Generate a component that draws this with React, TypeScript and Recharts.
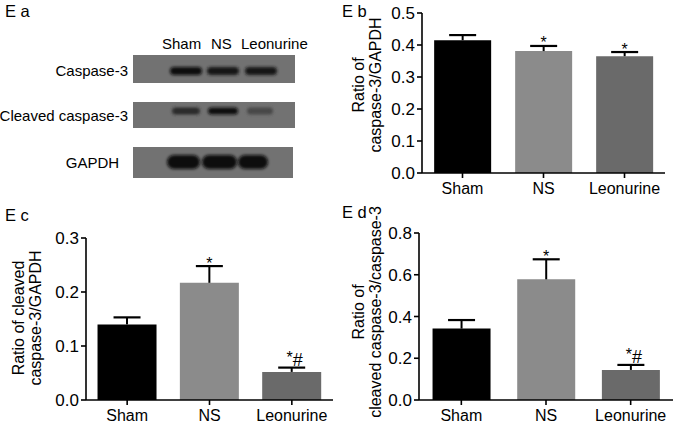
import React from 'react';
import { BarChart, Bar, XAxis, YAxis, Cell } from 'recharts';

const groups = ['Sham', 'NS', 'Leonurine'];
const barColors = ['#000000', '#8b8b8b', '#6a6a6a'];

// Eb: caspase-3 / GAPDH
const casp3Mean = [0.415, 0.381, 0.365];
const casp3Sem = [0.016, 0.016, 0.013];
const casp3Sig = ['', '*', '*'];
const casp3Ticks = [0, 0.1, 0.2, 0.3, 0.4, 0.5];

// Ec: cleaved caspase-3 / GAPDH
const cleavedMean = [0.14, 0.217, 0.052];
const cleavedSem = [0.013, 0.031, 0.008];
const cleavedSig = ['', '*', '*#'];
const cleavedTicks = [0, 0.1, 0.2, 0.3];

// Ed: cleaved caspase-3 / caspase-3
const ratioMean = [0.342, 0.578, 0.144];
const ratioSem = [0.041, 0.096, 0.024];
const ratioSig = ['', '*', '*#'];
const ratioTicks = [0, 0.2, 0.4, 0.6, 0.8];

// Ea: western blot band strength (0-1)
const blotRows = ['Caspase-3', 'Cleaved caspase-3', 'GAPDH'];
const bandStrength = [
  [0.95, 0.9, 0.92],
  [0.7, 0.95, 0.45],
  [1, 1, 1],
];

const FONT = '"Liberation Sans", Arial, sans-serif';

const ErrShape = (props: any) => {
  const { x, y, width, height } = props;
  const sig = props.payload?.sig ?? props.sig;
  const cx = x + width / 2;
  return (
    <g>
      <line x1={cx} x2={cx} y1={y} y2={y + height} stroke="#000" strokeWidth={2} />
      <line x1={cx - 13.5} x2={cx + 13.5} y1={y} y2={y} stroke="#000" strokeWidth={2.2} />
      {sig === '*' && (
        <text x={cx} y={y + 2.5} textAnchor="middle" fontSize={16} fontFamily={FONT} fill="#000">*</text>
      )}
      {sig === '*#' && (
        <text x={cx + 3} y={y - 2} textAnchor="middle" fontFamily={FONT} fill="#000">
          <tspan fontSize={16} dy={-3}>*</tspan>
          <tspan fontSize={18} dy={3}>#</tspan>
        </text>
      )}
    </g>
  );
};

function Panel({ left, top, width, height, margin, yWidth, ticks, mean, sem, sig, gap }: any) {
  const data = groups.map((g, i) => ({ name: g, mean: mean[i], sem: sem[i], sig: sig[i] }));
  return (
    <div style={{ position: 'absolute', left, top }}>
      <BarChart width={width} height={height} data={data} margin={margin} barCategoryGap={gap}>
        <XAxis
          dataKey="name"
          interval={0}
          height={27}
          axisLine={{ stroke: '#000', strokeWidth: 1.6 }}
          tickLine={{ stroke: '#000', strokeWidth: 1.6 }}
          tickSize={5}
          tickMargin={5}
          tick={{ fill: '#000', fontSize: 16, fontFamily: FONT }}
        />
        <YAxis
          domain={[0, ticks[ticks.length - 1]]}
          ticks={ticks}
          width={yWidth}
          tickFormatter={(v: number) => v.toFixed(1)}
          axisLine={{ stroke: '#000', strokeWidth: 1.6 }}
          tickLine={{ stroke: '#000', strokeWidth: 1.6 }}
          tickSize={5}
          tick={{ fill: '#000', fontSize: 17, fontFamily: FONT }}
        />
        <Bar dataKey="mean" stackId="s" isAnimationActive={false}>
          {data.map((d, i) => (
            <Cell key={d.name} fill={barColors[i]} />
          ))}
        </Bar>
        <Bar dataKey="sem" stackId="s" isAnimationActive={false} shape={<ErrShape />} />
      </BarChart>
    </div>
  );
}

const headerX = [162, 211, 241];

const boxes = [
  { x: 133, y: 55, w: 162, h: 28, cy: 71, bh: 8, lanes: [[170, 202], [207, 239], [245, 277]], ly: 76 },
  { x: 133, y: 102, w: 162, h: 26, cy: 111, bh: 7, lanes: [[172, 200], [208, 238], [247, 273]], ly: 121 },
  { x: 133, y: 147, w: 160, h: 31, cy: 162, bh: 14, lanes: [[167, 200], [202, 237], [238, 268]], ly: 168 },
];

export default function App() {
  return (
    <div style={{ position: 'absolute', left: 0, top: 0, width: 677, height: 427, background: '#fff', overflow: 'hidden', fontFamily: FONT }}>
      <Panel left={340} top={0} width={337} height={200} margin={{ top: 13, right: 12, bottom: 0, left: 0 }}
        yWidth={82} ticks={casp3Ticks} mean={casp3Mean} sem={casp3Sem} sig={casp3Sig} gap="15%" />
      <Panel left={0} top={200} width={340} height={227} margin={{ top: 38, right: 7, bottom: 0, left: 0 }}
        yWidth={86} ticks={cleavedTicks} mean={cleavedMean} sem={cleavedSem} sig={cleavedSig} gap="14%" />
      <Panel left={340} top={200} width={337} height={227} margin={{ top: 33, right: 4, bottom: 0, left: 0 }}
        yWidth={79} ticks={ratioTicks} mean={ratioMean} sem={ratioSem} sig={ratioSig} gap="16%" />

      <svg width={677} height={427} style={{ position: 'absolute', left: 0, top: 0, pointerEvents: 'none' }}
        fontFamily={FONT} fill="#000">
        <defs>
          <filter id="blur" x="-30%" y="-60%" width="160%" height="220%">
            <feGaussianBlur stdDeviation="1.6" />
          </filter>
          <filter id="soft">
            <feGaussianBlur stdDeviation="0.6" />
          </filter>
        </defs>

        {/* panel letters */}
        <text x={5} y={17} fontSize={16.5}>E a</text>
        <text x={342} y={17} fontSize={16.5}>E b</text>
        <text x={5} y={221} fontSize={16.5}>E c</text>
        <text x={342} y={218} fontSize={16.5}>E d</text>

        {/* y-axis titles */}
        <g fontSize={16} textAnchor="middle" dominantBaseline="central">
          <text transform="translate(358,85) rotate(-90)">Ratio of</text>
          <text transform="translate(375,85) rotate(-90)">caspase-3/GAPDH</text>
          <text transform="translate(18,318) rotate(-90)">Ratio of cleaved</text>
          <text transform="translate(35,318) rotate(-90)">caspase-3/GAPDH</text>
          <text transform="translate(358,312) rotate(-90)">Ratio of</text>
          <text transform="translate(375,312) rotate(-90)">cleaved caspase-3/caspase-3</text>
        </g>

        {/* blot */}
        <g fontSize={15}>
          {groups.map((g, i) => (
            <text key={g} x={headerX[i]} y={49}>{g}</text>
          ))}
        </g>
        {boxes.map((bx, r) => (
          <g key={r}>
            <rect x={bx.x} y={bx.y} width={bx.w} height={bx.h} fill="#727272" filter="url(#soft)" />
            {bx.lanes.map(([a, b], i) => {
              const s = bandStrength[r][i];
              const shade = Math.round(120 - 110 * s);
              return (
                <rect key={i} x={a} y={bx.cy - bx.bh / 2} width={b - a} height={bx.bh} rx={bx.bh / 2}
                  fill={`rgb(${shade},${shade},${shade})`} filter="url(#blur)" />
              );
            })}
            <text x={r === 2 ? 92.5 : 128} y={bx.ly} fontSize={15} textAnchor={r === 2 ? 'middle' : 'end'}>
              {blotRows[r]}
            </text>
          </g>
        ))}
      </svg>
    </div>
  );
}
